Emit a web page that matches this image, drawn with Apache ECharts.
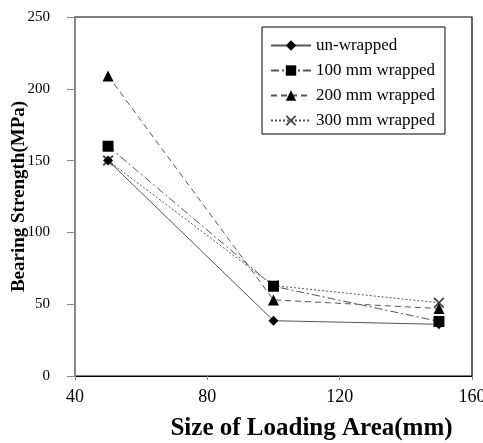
<!DOCTYPE html>
<html><head><meta charset="utf-8">
<script src="https://cdn.jsdelivr.net/npm/echarts@6/dist/echarts.min.js"></script>
<style>html,body{margin:0;padding:0;background:#fff}#c{width:483px;height:443px}</style>
</head><body><div id="c"></div>
<script>
const xValues = [50, 100, 150];
const unWrapped = [150, 38.5, 36];
const wrapped100 = [160, 62.5, 38];
const wrapped200 = [209, 53, 47];
const wrapped300 = [150, 63, 51];
const seriesNames = ['un-wrapped', '100 mm wrapped', '200 mm wrapped', '300 mm wrapped'];
const xTicks = [40, 80, 120, 160];
const yTicks = [0, 50, 100, 150, 200, 250];

const font = 'Liberation Serif, Times New Roman, serif';
const lineColor = '#555';
const xMark = 'path://M0,1.2L1.2,0L5,3.8L8.8,0L10,1.2L6.2,5L10,8.8L8.8,10L5,6.2L1.2,10L0,8.8L3.8,5Z';

function pairs(vals){ return xValues.map((x,i)=>[x, vals[i]]); }

const styles = [
  {symbol:'diamond', size:10, type:'solid', color:'#000'},
  {symbol:'rect', size:11, type:[8,3,2,3], color:'#000'},
  {symbol:'triangle', size:11, type:[6,4], color:'#000'},
  {symbol:xMark, size:11, type:[2,2], color:'#444'}
];
const data = [unWrapped, wrapped100, wrapped200, wrapped300];

const chart = echarts.init(document.getElementById('c'), null, {renderer:'canvas'});
chart.setOption({
  animation:false,
  backgroundColor:'#fff',
  textStyle:{fontFamily:font},
  grid:{left:75, right:11, top:17, bottom:67, outerBoundsMode:'none', containLabel:false,
    show:true, borderColor:'#000', borderWidth:1.2, backgroundColor:'transparent'},
  legend:{
    orient:'vertical', left:262, top:27,
    padding:[10,10,5,8], itemGap:8, itemWidth:40, itemHeight:13,
    borderColor:'#000', borderWidth:1, backgroundColor:'#fff',
    textStyle:{fontFamily:font, fontSize:17, color:'#000'},
    data:seriesNames
  },
  xAxis:{
    type:'value', min:40, max:160, interval:40,
    name:'Size of Loading Area(mm)', nameLocation:'middle', nameGap:40, nameMoveOverlap:false,
    nameTextStyle:{fontFamily:font, fontSize:25, fontWeight:'bold', color:'#000', padding:[0,0,0,76]},
    axisLine:{show:true, lineStyle:{color:'#000', width:1.2}},
    axisTick:{show:true, length:4, lineStyle:{color:'#888'}},
    axisLabel:{fontFamily:font, fontSize:18, color:'#000', margin:12,
      formatter:v=>xTicks.includes(v)?String(v):''},
    splitLine:{show:false}
  },
  yAxis:{
    type:'value', min:0, max:250, interval:50,
    name:'Bearing Strength(MPa)', nameLocation:'middle', nameGap:46, nameMoveOverlap:false,
    nameTextStyle:{fontFamily:font, fontSize:19, fontWeight:'bold', color:'#000'},
    axisLine:{show:true, lineStyle:{color:'#888', width:2}},
    axisTick:{show:true, length:8, lineStyle:{color:'#888'}},
    axisLabel:{fontFamily:font, fontSize:15, color:'#000', margin:25,
      formatter:v=>yTicks.includes(v)?String(v):''},
    splitLine:{show:false}
  },
  series: seriesNames.map((n,i)=>({
    name:n, type:'line', data:pairs(data[i]),
    symbol:styles[i].symbol, symbolSize:styles[i].size, showAllSymbol:true,
    lineStyle:{color:lineColor, width:1, type:styles[i].type},
    itemStyle:{color:styles[i].color},
    z: 10 - i
  }))
});
</script></body></html>
